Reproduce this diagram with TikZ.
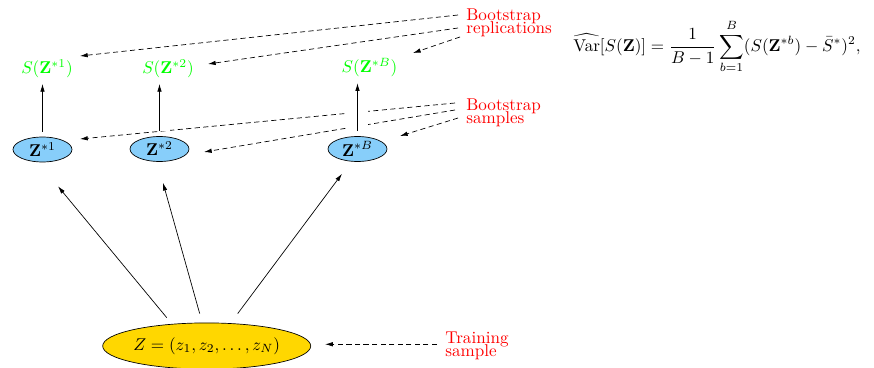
\documentclass[tikz,border=0pt]{standalone}
\usetikzlibrary{shapes.geometric,arrows.meta}
\definecolor{sampfill}{RGB}{135,206,250}
\definecolor{trainfill}{RGB}{255,215,0}

\begin{document}
\begin{tikzpicture}[x=0.585pt,y=-0.585pt,
        >={Latex[length=4.5pt,width=2.6pt]},
        samp/.style={ellipse, draw, fill=sampfill, inner sep=0pt, minimum width=34.5pt, minimum height=14.6pt},
        stat/.style={text=green, inner sep=0pt},
        note/.style={text=red, align=left, inner sep=0pt, anchor=north west},
        hint/.style={dash pattern=on 3pt off 2pt, ->},
        gap/.style={preaction={draw=white, line width=12pt, -}}]
        \useasboundingbox (0, 0) rectangle (874, 368);

        \node[samp] (z1) at (42.5, 149.5) {$\mathbf{Z}^{*1}$};
        \node[samp] (z2) at (159.5, 149) {$\mathbf{Z}^{*2}$};
        \node[samp] (zB) at (357.5, 149) {$\mathbf{Z}^{*B}$};
        \node[stat] (s1) at (47, 68.5) {$S(\mathbf{Z}^{*1})$};
        \node[stat] (s2) at (168, 68.5) {$S(\mathbf{Z}^{*2})$};
        \node[stat] (sB) at (369.5, 67.5) {$S(\mathbf{Z}^{*B})$};
        \node[ellipse, draw, fill=trainfill, inner sep=0pt, minimum width=121.7pt, minimum height=27pt] (zz) at (206.7, 346) {$Z=(z_1,z_2,\ldots,z_N)$};

        \node[note] (rep) at (466, 8) {Bootstrap\\[-4.4pt]replications};
        \node[note] (smp) at (466, 98) {Bootstrap\\[-4.4pt]samples};
        \node[note] (trn) at (445, 332) {Training\\[-4.4pt]sample};
        \node[inner sep=0pt, anchor=base west] (var) at (573, 51.3) {$\displaystyle \widehat{\mathrm{Var}}[S(\mathbf{Z})]=\frac{1}{B-1}\sum_{b=1}^{B}(S(\mathbf{Z}^{*b})-\bar{S}^{*})^{2},$};

        \coordinate (r1) at (80, 56);
        \coordinate (r2) at (208, 64);
        \coordinate (r3) at (413, 53);
        \coordinate (u1) at (80, 139);
        \coordinate (u2) at (204, 152);
        \coordinate (u3) at (400, 136);
        \coordinate (t0) at ([shift={(-8, -2)}]trn.west);

        \draw[hint] ([shift={(-8, 7)}]rep.north west) -- (r1);
        \draw[hint] ([shift={(-8, 20)}]rep.north west) -- (r2);
        \draw[hint] ([shift={(-6, 29)}]rep.north west) -- (r3);
        \draw[hint] ([shift={(-11, 5)}]smp.north west) -- (u1);
        \draw[hint] ([shift={(-11, 12)}]smp.north west) -- (u2);
        \draw[hint] ([shift={(-8, 20)}]smp.north west) -- (u3);
        \draw[hint] (t0) -- ([shift={(14, 0)}]zz.east |- t0);

        \draw[->, gap, shorten <=3pt, shorten >=3.5pt] (z1.north) -- (z1.north |- s1.south);
        \draw[->, gap, shorten <=3pt, shorten >=3.5pt] (z2.north) -- (z2.north |- s2.south);
        \draw[->, gap, shorten <=3pt, shorten >=3.5pt] (zB.north) -- (zB.north |- sB.south);

        \draw[->] ([shift={(-40, -5)}]zz.north) -- ([shift={(15.5, 24)}]z1.south);
        \draw[->] ([shift={(-7, -9)}]zz.north) -- ([shift={(3.5, 21)}]z2.south);
        \draw[->] ([shift={(31, -9)}]zz.north) -- ([shift={(-15.5, 12)}]zB.south);

    \end{tikzpicture}
\end{document}
